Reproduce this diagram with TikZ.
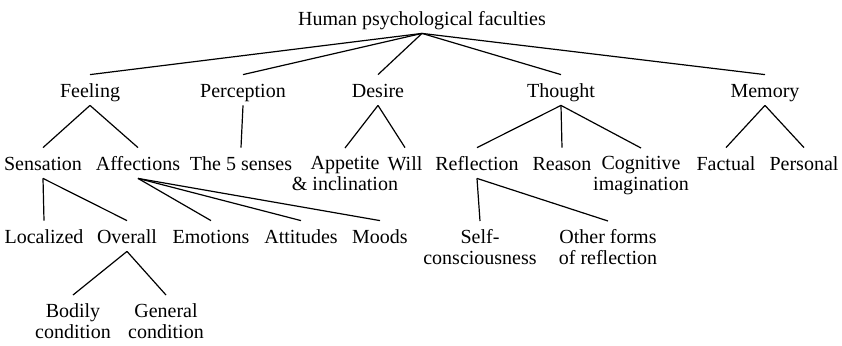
\documentclass[tikz,border=0pt]{standalone}
\usepackage{fontspec}
\setmainfont{Liberation Serif}
\tikzset{
  faculty/.style={anchor=base, inner xsep=0pt, inner ysep=4pt, text height=7pt, text depth=0pt,
    font=\fontsize{10}{10.5}\selectfont},
  facultytwo/.style={anchor=north, inner xsep=0pt, inner ysep=4pt, align=center,
    font=\fontsize{10}{10.5}\selectfont},
  branch/.style={black, line width=0.6pt}
}
\begin{document}
\begin{tikzpicture}[x=0.5pt, y=-0.5pt]
    \useasboundingbox (0,0) rectangle (842,345);
    % First, locate each of the nodes and name them
    \node[faculty] (root) at (422,25) {Human psychological faculties};
    \node[faculty] (feeling) at (90,97) {Feeling};
    \node[faculty] (perception) at (243,97) {Perception};
    \node[faculty] (desire) at (378,97) {Desire};
    \node[faculty] (thought) at (561,97) {Thought};
    \node[faculty] (memory) at (765,97) {Memory};
    \node[faculty] (sensation) at (43,170) {Sensation};
    \node[faculty] (affections) at (138,170) {Affections};
    \node[faculty] (senses) at (241,170) {The 5 senses};
    \node[facultytwo] (appetite) at (345,148) {Appetite\\\& inclination};
    \node[faculty] (will) at (405,170) {Will};
    \node[faculty] (reflection) at (477,170) {Reflection};
    \node[faculty] (reason) at (562,170) {Reason};
    \node[facultytwo] (cognitive) at (641,148) {Cognitive\\imagination};
    \node[faculty] (factual) at (726,170) {Factual};
    \node[faculty] (personal) at (804,170) {Personal};
    \node[faculty] (localized) at (44,243) {Localized};
    \node[faculty] (overall) at (127,243) {Overall};
    \node[faculty] (emotions) at (211,243) {Emotions};
    \node[faculty] (attitudes) at (301,243) {Attitudes};
    \node[faculty] (moods) at (380,243) {Moods};
    \node[facultytwo] (selfcons) at (480,221) {Self-\\consciousness};
    \node[facultytwo] (otherforms) at (608,221) {Other forms\\of reflection};
    \node[facultytwo] (bodily) at (73,295) {Bodily\\condition};
    \node[facultytwo] (general) at (166,295) {General\\condition};
    % Now draw the lines
    \draw[branch] (root.south) -- (feeling.north);
    \draw[branch] (root.south) -- (perception.north);
    \draw[branch] (root.south) -- (desire.north);
    \draw[branch] (root.south) -- (thought.north);
    \draw[branch] (root.south) -- (memory.north);
    \draw[branch] (feeling.south) -- (sensation.north);
    \draw[branch] (feeling.south) -- (affections.north);
    \draw[branch] (perception.south) -- (senses.north);
    \draw[branch] (desire.south) -- (appetite.north);
    \draw[branch] (desire.south) -- (will.north);
    \draw[branch] (thought.south) -- (reflection.north);
    \draw[branch] (thought.south) -- (reason.north);
    \draw[branch] (thought.south) -- (cognitive.north);
    \draw[branch] (memory.south) -- (factual.north);
    \draw[branch] (memory.south) -- (personal.north);
    \draw[branch] (sensation.south) -- (localized.north);
    \draw[branch] (sensation.south) -- (overall.north);
    \draw[branch] (affections.south) -- (emotions.north);
    \draw[branch] (affections.south) -- (attitudes.north);
    \draw[branch] (affections.south) -- (moods.north);
    \draw[branch] (reflection.south) -- (selfcons.north);
    \draw[branch] (reflection.south) -- (otherforms.north);
    \draw[branch] (overall.south) -- (bodily.north);
    \draw[branch] (overall.south) -- (general.north);
\end{tikzpicture}
\end{document}
